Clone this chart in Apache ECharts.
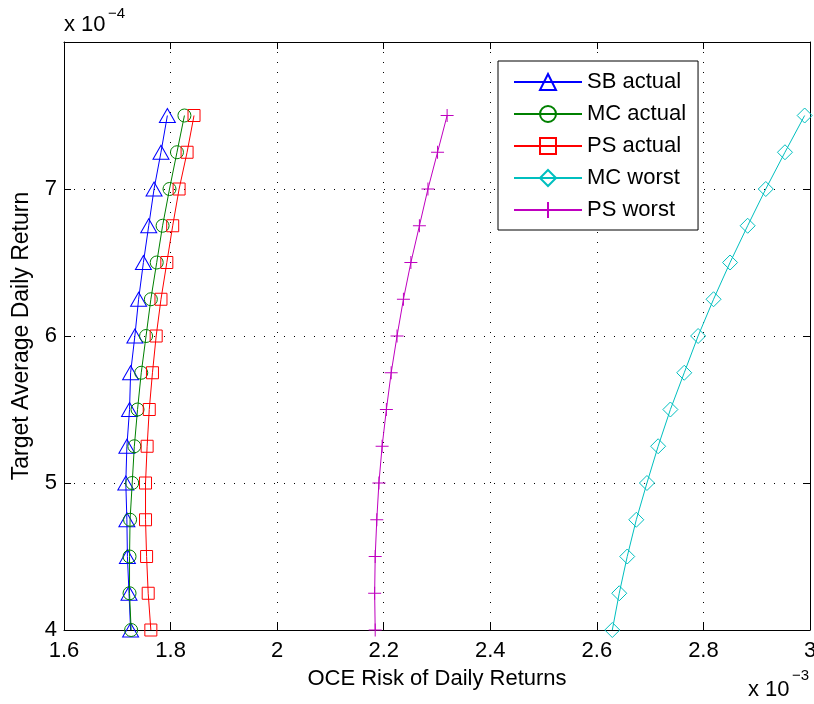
<!DOCTYPE html>
<html>
<head>
<meta charset="utf-8">
<script src="https://cdn.jsdelivr.net/npm/echarts@6/dist/echarts.min.js"></script>
<style>html,body{margin:0;padding:0;background:#fff;}#c{width:814px;height:704px;}</style>
</head>
<body>
<div id="c"></div>
<script>
// Target average daily return (x 1e-4)
const targetReturns = [4.00, 4.25, 4.50, 4.75, 5.00, 5.25, 5.50, 5.75, 6.00, 6.25, 6.50, 6.75, 7.00, 7.25, 7.50];
// OCE risk (x 1e-3)
const sbActual = [1.725, 1.722, 1.719, 1.718, 1.716, 1.718, 1.723, 1.725, 1.733, 1.740, 1.749, 1.759, 1.769, 1.782, 1.794];
const mcActual = [1.726, 1.723, 1.723, 1.724, 1.728, 1.732, 1.738, 1.745, 1.754, 1.763, 1.774, 1.785, 1.798, 1.812, 1.826];
const psActual = [1.763, 1.758, 1.755, 1.753, 1.753, 1.756, 1.760, 1.766, 1.773, 1.782, 1.793, 1.804, 1.816, 1.831, 1.844];
const mcWorst  = [2.629, 2.642, 2.657, 2.674, 2.694, 2.715, 2.738, 2.764, 2.790, 2.819, 2.850, 2.883, 2.917, 2.953, 2.990];
const psWorst  = [2.184, 2.183, 2.184, 2.187, 2.191, 2.197, 2.205, 2.214, 2.225, 2.237, 2.251, 2.267, 2.283, 2.301, 2.319];
const seriesNames = ['SB actual', 'MC actual', 'PS actual', 'MC worst', 'PS worst'];
const xTicks = [1.6, 1.8, 2.0, 2.2, 2.4, 2.6, 2.8, 3.0];
const yTicks = [4, 5, 6, 7];

const FONT = "'Liberation Sans', Arial, Helvetica, sans-serif";
const colors = ['#0000ff', '#008000', '#ff0000', '#00bfbf', '#bf00bf'];
const symbols = ['triangle', 'circle', 'rect', 'diamond', 'path://M5,0 L5,10 M0,5 L10,5'];
const sizes = [[16, 14], 13, 12, 15, 13];
const values = [sbActual, mcActual, psActual, mcWorst, psWorst];

const chart = echarts.init(document.getElementById('c'), null, {renderer: 'canvas'});

const gridLine = {show: true, lineStyle: {color: '#000', width: 1, type: [1, 9]}};
const axisCommon = {
  axisLine: {show: true, onZero: false, lineStyle: {color: '#000', width: 1}},
  axisTick: {show: true, inside: true, length: 7, lineStyle: {color: '#000', width: 1}},
};

const series = seriesNames.map((name, i) => ({
  name: name,
  type: 'line',
  data: targetReturns.map((y, k) => [values[i][k], y]),
  symbol: symbols[i],
  symbolSize: sizes[i],
  showAllSymbol: true,
  clip: false,
  lineStyle: {color: colors[i], width: 1},
  itemStyle: {color: 'none', borderColor: colors[i], borderWidth: 1},
  emphasis: {disabled: true},
  animation: false,
  z: 2 + i
}));

chart.setOption({
  animation: false,
  backgroundColor: '#fff',
  textStyle: {fontFamily: FONT},
  grid: {left: 64, right: 4, top: 42, bottom: 74, containLabel: false, outerBoundsMode: 'none'},
  xAxis: [
    Object.assign({
      type: 'value', position: 'bottom', min: 1.6, max: 3.0, interval: 0.2,
      name: 'OCE Risk of Daily Returns', nameLocation: 'middle', nameGap: 38,
      nameTextStyle: {fontSize: 22, color: '#000', fontFamily: FONT},
      axisLabel: {fontSize: 22, color: '#000', margin: 10, fontFamily: FONT, hideOverlap: false,
        formatter: v => { const t = xTicks.find(s => Math.abs(s - v) < 1e-6); return t === undefined ? '' : String(+t.toFixed(1)); }},
      splitLine: gridLine
    }, axisCommon),
    Object.assign({
      type: 'value', position: 'top', min: 1.6, max: 3.0, interval: 0.2,
      axisLabel: {show: false}, splitLine: {show: false}
    }, axisCommon)
  ],
  yAxis: [
    Object.assign({
      type: 'value', position: 'left', min: 4, max: 8, interval: 1,
      name: 'Target Average Daily Return', nameLocation: 'middle', nameGap: 31,
      nameTextStyle: {fontSize: 23, color: '#000', fontFamily: FONT},
      axisLabel: {fontSize: 22, color: '#000', margin: 7, fontFamily: FONT,
        formatter: v => yTicks.indexOf(v) >= 0 ? String(v) : ''},
      splitLine: gridLine
    }, axisCommon),
    Object.assign({
      type: 'value', position: 'right', min: 4, max: 8, interval: 1,
      axisLabel: {show: false}, splitLine: {show: false}
    }, axisCommon)
  ],
  legend: {
    show: true,
    orient: 'vertical',
    left: 498, top: 61,
    data: seriesNames,
    itemWidth: 68, itemHeight: 20, itemGap: 10,
    padding: [10, 12, 9, 15],
    backgroundColor: '#fff',
    borderColor: '#000', borderWidth: 1, borderRadius: 0,
    textStyle: {fontSize: 22, color: '#000', fontFamily: FONT, lineHeight: 22},
    selectedMode: false
  },
  graphic: [
    {type: 'text', left: 64, top: 14, style: {text: 'x 10', font: '22px ' + FONT, fill: '#000'}},
    {type: 'text', left: 108, top: 6, style: {text: '\u22124', font: '15px ' + FONT, fill: '#000'}},
    {type: 'text', left: 748, top: 679, style: {text: 'x 10', font: '22px ' + FONT, fill: '#000'}},
    {type: 'text', left: 792, top: 668, style: {text: '\u22123', font: '15px ' + FONT, fill: '#000'}}
  ],
  series: series
});
</script>
</body>
</html>
